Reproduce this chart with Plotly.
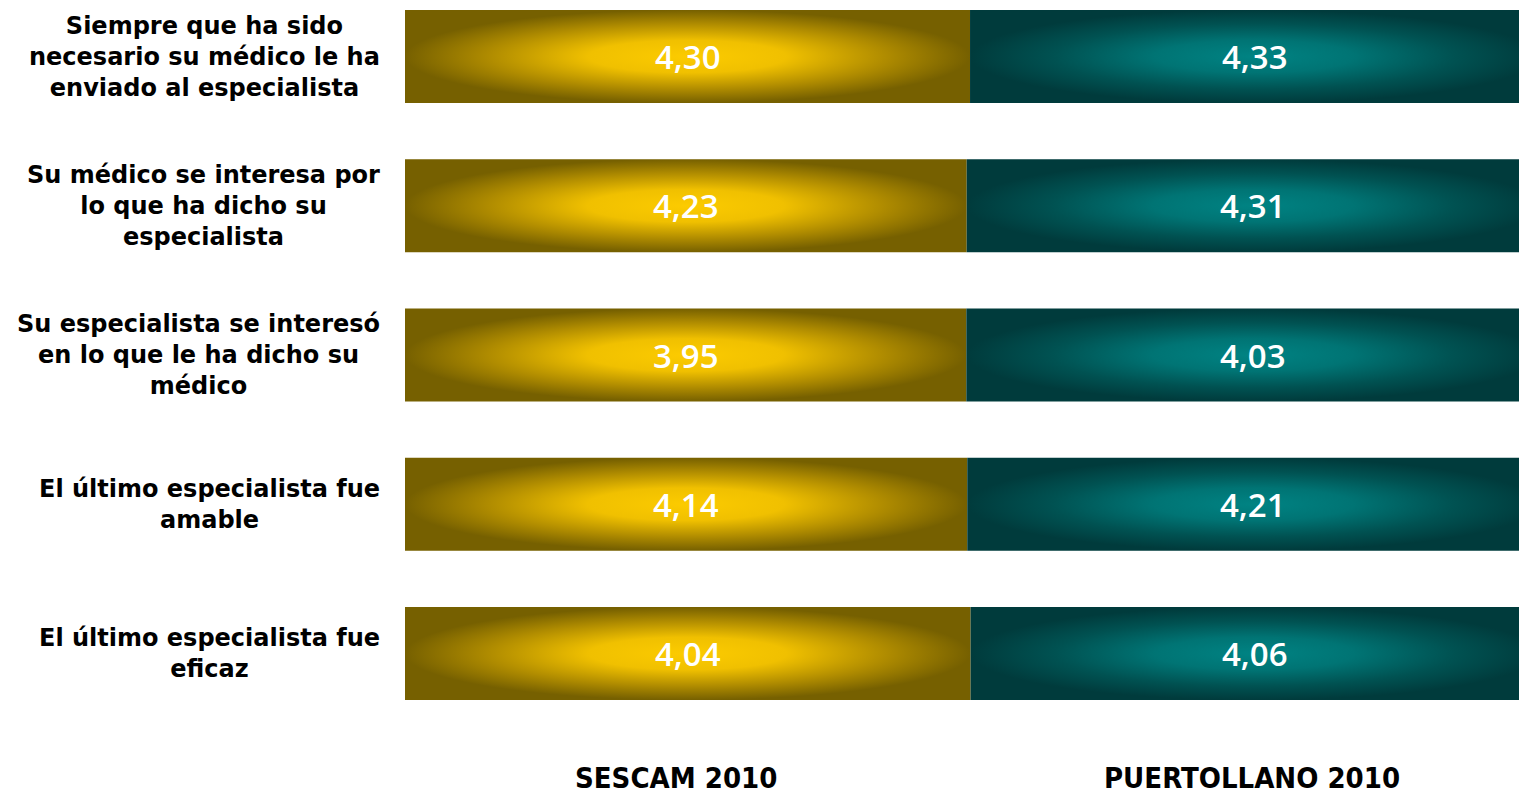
import plotly.graph_objects as go

categories = [
    "Siempre que ha sido<br>necesario su médico le ha<br>enviado al especialista",
    "Su médico se interesa por<br>lo que ha dicho su<br>especialista",
    "Su especialista se interesó<br>en lo que le ha dicho su<br>médico",
    "El último especialista fue<br>amable",
    "El último especialista fue<br>eficaz",
]
series_names = ["SESCAM 2010", "PUERTOLLANO 2010"]
sescam = [4.30, 4.23, 3.95, 4.14, 4.04]
puertollano = [4.33, 4.31, 4.03, 4.21, 4.06]

gold_scale = [[0, "#fccb00"], [0.35, "#f0c000"], [0.7, "#b08c00"], [1, "#766000"]]
teal_scale = [[0, "#008383"], [0.35, "#007474"], [0.7, "#005252"], [1, "#003b3c"]]

W, H = 1519, 789
L, B = 397, 60
PW = W - L
PH = H - B

fig = go.Figure()
half = 0.3116
annotations = []
for i, (a, b) in enumerate(zip(sescam, puertollano)):
    tot = a + b
    segs = [(0, a / tot, a, gold_scale), (a / tot, 1.0, b, teal_scale)]
    for x0, x1, v, cs in segs:
        fig.add_trace(go.Scatter(
            x=[x0, x1, x1, x0, x0],
            y=[i - half, i - half, i + half, i + half, i - half],
            mode="lines", fill="toself",
            line=dict(width=0, color="rgba(0,0,0,0)"),
            fillgradient=dict(type="radial", colorscale=cs),
            hoverinfo="skip", showlegend=False,
        ))
        annotations.append(dict(
            x=(x0 + x1) / 2, y=i, xref="x", yref="y", xanchor="center",
            text=f"{v:.2f}".replace(".", ","), showarrow=False,
            font=dict(family="Open Sans", size=33, color="white", weight=600),
        ))
    annotations.append(dict(
        x=-23 / PW, y=i, xref="paper", yref="y", xanchor="right",
        align="center", text=categories[i], showarrow=False,
        font=dict(family="DejaVu Sans", size=24, color="black", weight="bold"),
    ))

for name, xc in zip(series_names, [271 / PW, 847 / PW]):
    annotations.append(dict(
        x=xc, y=-(H - PH) / PH, xref="paper", yref="paper",
        xanchor="center", yanchor="bottom",
        text=name, showarrow=False,
        font=dict(family="DejaVu Sans Condensed, Liberation Sans", size=29,
                  color="black", weight="bold"),
    ))

fig.update_layout(
    width=W, height=H,
    margin=dict(l=L, r=0, t=0, b=B),
    plot_bgcolor="white", paper_bgcolor="white",
    xaxis=dict(range=[0, 1122 / 1134], visible=False, fixedrange=True),
    yaxis=dict(range=[(PH - 48.5) / 149.25, -48.5 / 149.25], visible=False, fixedrange=True),
    annotations=annotations,
    showlegend=False,
)
fig.write_html("out.html")
